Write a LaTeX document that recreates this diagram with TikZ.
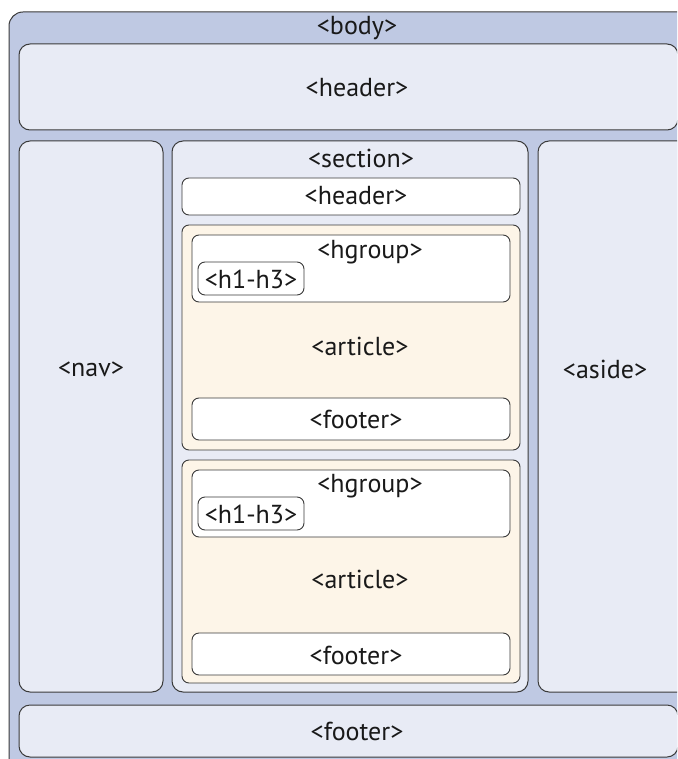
\documentclass[tikz,border=0pt]{standalone}
\usepackage{fontspec}
\setmainfont{PT Sans}
\definecolor{bodyblue}{HTML}{BFC9E3}
\definecolor{paleblue}{HTML}{E8EBF5}
\definecolor{cream}{HTML}{FDF5E8}
\definecolor{edge}{HTML}{3A3A3A}
\tikzset{
  tag/.style={font=\fontsize{26}{28}\selectfont, text=black!90, inner sep=0pt},
  outer/.style={draw=edge, line width=1pt, fill=paleblue, rounded corners=11pt},
  inner/.style={draw=edge, line width=0.9pt, fill=white, rounded corners=7pt}
}
\begin{document}
\begin{tikzpicture}[x=1pt, y=-1pt]
\useasboundingbox (0,0) rectangle (677,759);
\clip (0,0) rectangle (677,759);
% body
\draw[draw=edge, line width=1pt, fill=bodyblue, rounded corners=14pt] (9,12) rectangle (700,790);
\node[tag] (bodytag) at (357,28) {<body>};
% page header
\draw[outer] (19,44) rectangle (678,130);
\node[tag] (pagehead) at (357,88) {<header>};
% nav, section, aside
\draw[outer] (19,141) rectangle (163,692);
\node[tag] (nav) at (91,369) {<nav>};
\draw[outer] (172,141) rectangle (528,692);
\node[tag] (section) at (361,158) {<section>};
\draw[outer] (538,141) rectangle (690,692);
\node[tag] (aside) at (605,369) {<aside>};
% section header
\draw[inner] (182,178) rectangle (520,215);
\node[tag] (sechead) at (356,196) {<header>};
% article 1
\draw[inner, fill=cream] (182,225) rectangle (520,450);
\draw[inner] (192,235) rectangle (510,302);
\node[tag] (hgroup1) at (370,252) {<hgroup>};
\draw[inner] (198,262) rectangle (304,295);
\node[tag] (hh1) at (251,279) {<h1-h3>};
\node[tag] (article1) at (360,346) {<article>};
\draw[inner] (192,398) rectangle (510,440);
\node[tag] (foot1) at (356,419) {<footer>};
% article 2
\draw[inner, fill=cream] (182,460) rectangle (520,683);
\draw[inner] (192,470) rectangle (510,537);
\node[tag] (hgroup2) at (370,486) {<hgroup>};
\draw[inner] (198,497) rectangle (304,530);
\node[tag] (hh2) at (251,514) {<h1-h3>};
\node[tag] (article2) at (360,579) {<article>};
\draw[inner] (192,633) rectangle (510,675);
\node[tag] (foot2) at (356,655) {<footer>};
% page footer
\draw[outer] (19,705) rectangle (678,757);
\node[tag] (pagefoot) at (357,731) {<footer>};
\end{tikzpicture}
\end{document}
